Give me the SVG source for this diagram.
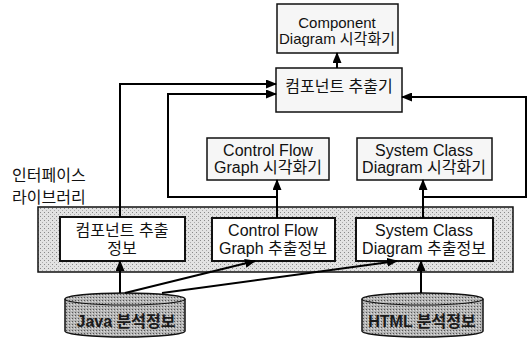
<svg xmlns="http://www.w3.org/2000/svg" width="532" height="339" viewBox="0 0 532 339">
<style>
text{font-family:"Liberation Sans","Noto Sans CJK KR",sans-serif;font-size:16px;fill:#111;text-anchor:middle}
.lbl{text-anchor:start}
.small{font-size:15px}
.cyt{font-weight:bold;fill:#1a1a1a}
.vis{fill:#f6f6f6;stroke:#111;stroke-width:1.5}
.info{fill:#fff;stroke:#111;stroke-width:2}
.lib{fill:url(#dots);stroke:#111;stroke-width:1.5}
.cyl{fill:url(#dots2);stroke:#111;stroke-width:1.5}
.con{fill:none;stroke:#000;stroke-width:2;marker-end:url(#ah)}
</style>
<defs>
<pattern id="dots" width="4" height="4" patternUnits="userSpaceOnUse">
<rect width="4" height="4" fill="#e2e2e2"/>
<rect x="0" y="0" width="1" height="1" fill="#888"/>
<rect x="2" y="2" width="1" height="1" fill="#aaa"/>
</pattern>
<pattern id="dots2" width="3" height="3" patternUnits="userSpaceOnUse">
<rect width="3" height="3" fill="#b4b4b4"/>
<rect x="0" y="0" width="1" height="1" fill="#555"/>
<rect x="2" y="1" width="1" height="1" fill="#ddd"/>
</pattern>
<marker id="ah" markerUnits="userSpaceOnUse" markerWidth="11" markerHeight="9" refX="10" refY="4.5" orient="auto">
<path d="M0,0 L11,4.5 L0,9 z" fill="#000"/>
</marker>
</defs>
<g id="library">
<rect class="lib" x="38" y="207" width="475" height="65"/>
<text class="lbl" x="12" y="181">인터페이스</text>
<text class="lbl" x="12" y="203">라이브러리</text>
</g>
<g id="component-visualizer">
<rect class="vis" x="277" y="4" width="121" height="49"/>
<text class="small" x="337" y="28">Component</text>
<text class="small" x="337" y="44">Diagram 시각화기</text>
</g>
<g id="component-extractor">
<rect class="vis" x="276" y="68" width="126" height="44"/>
<text x="339" y="92">컴포넌트 추출기</text>
</g>
<g id="cfg-visualizer">
<rect class="vis" x="207" y="138" width="122" height="42"/>
<text x="268" y="156">Control Flow</text>
<text x="268" y="173">Graph 시각화기</text>
</g>
<g id="scd-visualizer">
<rect class="vis" x="357" y="138" width="135" height="42"/>
<text x="424" y="156">System Class</text>
<text x="424" y="173">Diagram 시각화기</text>
</g>
<g id="component-info">
<rect class="info" x="60" y="217" width="125" height="44"/>
<text x="122" y="236">컴포넌트 추출</text>
<text x="122" y="254">정보</text>
</g>
<g id="cfg-info">
<rect class="info" x="212" y="218" width="123" height="43"/>
<text x="273" y="236">Control Flow</text>
<text x="273" y="254">Graph 추출정보</text>
</g>
<g id="scd-info">
<rect class="info" x="356" y="218" width="137" height="43"/>
<text x="424" y="236">System Class</text>
<text x="424" y="254">Diagram 추출정보</text>
</g>
<g id="java-info">
<path class="cyl" d="M65,299 A60,6 0 0 1 185,299 V331 A60,6 0 0 1 65,331 Z"/>
<path d="M65,299 A60,6 0 0 0 185,299" fill="none" stroke="#111" stroke-width="1.2"/>
<text class="cyt" x="126" y="327">Java 분석정보</text>
</g>
<g id="html-info">
<path class="cyl" d="M362,299 A60.5,6 0 0 1 483,299 V331 A60.5,6 0 0 1 362,331 Z"/>
<path d="M362,299 A60.5,6 0 0 0 483,299" fill="none" stroke="#111" stroke-width="1.2"/>
<text class="cyt" x="422" y="327">HTML 분석정보</text>
</g>
<g id="connectors">
<path class="con" d="M120,217 V84 H276"/>
<path class="con" d="M277,197 H168 V94 H276"/>
<path class="con" d="M423,197 H526 V97 H402"/>
<path class="con" d="M277,218 V180"/>
<path class="con" d="M423,218 V180"/>
<path class="con" d="M337,68 V53"/>
<path class="con" d="M120,293 V261"/>
<path class="con" d="M125,293 L255,261"/>
<path class="con" d="M162,293 L397,261"/>
<path class="con" d="M421,293 V261"/>
</g>
</svg>
